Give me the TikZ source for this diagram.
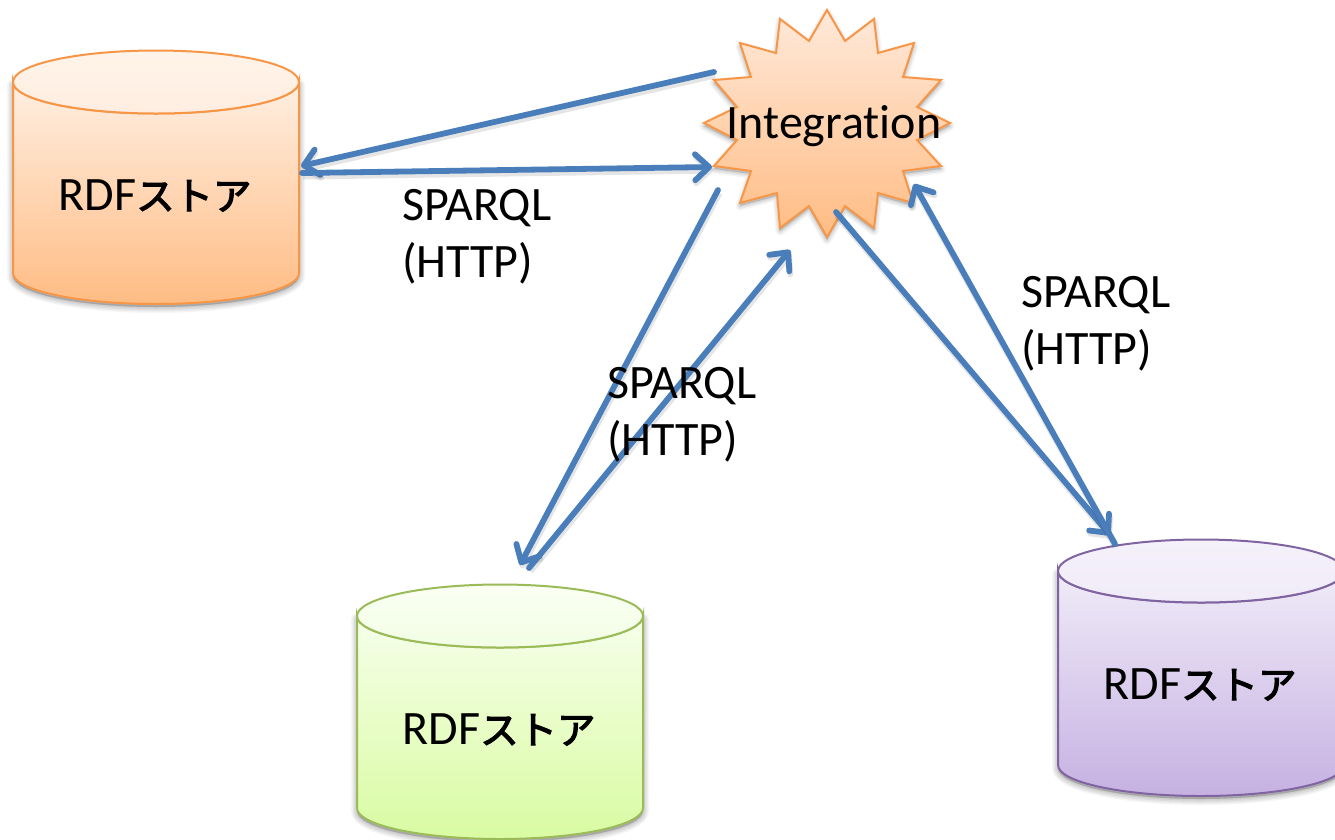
\documentclass[tikz,border=0pt]{standalone}
\usepackage{fontspec}
\setmainfont{Carlito}[Ligatures=CommonOff]
\newfontfamily\cjk{Noto Sans CJK JP}[Scale=0.8,FakeBold=3]
\usetikzlibrary{arrows.meta,calc}
\definecolor{linkblue}{HTML}{4A7EBB}
\definecolor{orangeline}{HTML}{F79646}
\definecolor{greenline}{HTML}{9BBB59}
\definecolor{purpleline}{HTML}{8064A2}
\definecolor{orangetop}{HTML}{FFEFE2}
\definecolor{orangebot}{HTML}{FFBC84}
\definecolor{orangelidtop}{HTML}{FFF4EA}
\definecolor{orangelidbot}{HTML}{FFEDE0}
\definecolor{greentop}{HTML}{F6FFEA}
\definecolor{greenbot}{HTML}{D9FBA2}
\definecolor{greenlidtop}{HTML}{FAFFF3}
\definecolor{greenlidbot}{HTML}{F2FEE4}
\definecolor{purpletop}{HTML}{F0EBF8}
\definecolor{purplebot}{HTML}{C6B1E2}
\definecolor{purplelidtop}{HTML}{F5F1FB}
\definecolor{purplelidbot}{HTML}{F0EBF8}
\definecolor{hubtop}{HTML}{FFE9DA}
\tikzset{
  every node/.style={inner sep=0pt,outer sep=0pt,text=black},
  storelabel/.style={font=\fontsize{48}{57}\selectfont,anchor=base},
  hublabel/.style={font=\fontsize{48}{57}\selectfont,anchor=base},
  linklabel/.style={font=\fontsize{48}{57}\selectfont,align=left,anchor=north west},
  link/.style={draw=linkblue,line width=5.8pt,line cap=round,
    -{Straight Barb[length=14pt,width=26pt,line width=5.8pt,round]},
    preaction={draw=black,draw opacity=.10,line width=7pt,transform canvas={shift={(1pt,-3pt)}}}},
}
% #1 left x, #2 lid centre y, #3 side bottom y, #4 colour stem
\newcommand{\storecyl}[4]{%
  \def\cylpath{(#1,#2) -- (#1,#3) arc[start angle=180,end angle=0,x radius=143,y radius=31] -- (#1+286,#2) arc[start angle=0,end angle=180,x radius=143,y radius=31.5] -- cycle}%
  \foreach \w/\o in {12/.04,9/.05,6/.05,3/.06}{%
    \fill[black,opacity=\o,draw=black,draw opacity=\o,line width=\w pt,line join=round,yshift=-3pt] \cylpath;}%
  \path[top color=#4top,bottom color=#4bot] \cylpath;
  \draw[#4line,line width=2pt] \cylpath;
  \path[top color=#4lidtop,bottom color=#4lidbot] (#1+143,#2) ellipse[x radius=143,y radius=31.5];
  \draw[#4line,line width=2pt] (#1+143,#2) ellipse[x radius=143,y radius=31.5];
}
\begin{document}
\begin{tikzpicture}[x=1pt,y=-1pt]
\clip (0,0) rectangle (1335,839);
\fill[white] (0,0) rectangle (1335,839);
% stores
\storecyl{13}{82}{273}{orange}
\storecyl{357}{616}{808}{green}
\storecyl{1058}{571}{765}{purple}
\node[storelabel] (storeA) at (155,210) {RDF{\cjk ストア}};
\node[storelabel] (storeB) at (499,744) {RDF{\cjk ストア}};
\node[storelabel] (storeC) at (1200,699) {RDF{\cjk ストア}};
% hub
\def\hubpath{(827,10) -- (845,41) -- (874,19) -- (878,53) -- (914,43) -- (903,77) -- (941,80) -- (917,107) -- (950,123) -- (917,140) -- (941,166) -- (903,171) -- (913,203) -- (878,193) -- (874,228) -- (845,206) -- (827,237) -- (809,206) -- (780,228) -- (777,193) -- (740,203) -- (751,171) -- (714,166) -- (737,140) -- (704,123) -- (737,107) -- (714,80) -- (751,77) -- (740,43) -- (776,53) -- (780,19) -- (809,41) -- cycle}
\foreach \w/\o in {9/.04,6/.05,3/.06}{%
  \fill[black,opacity=\o,draw=black,draw opacity=\o,line width=\w pt,line join=round,yshift=-3pt] \hubpath;}
\path[top color=hubtop,bottom color=orangebot] \hubpath;
\draw[orangeline,line width=2pt,line join=miter] \hubpath;
\node[hublabel] (hub) at (834,138) {Integration};
% connector ends
\coordinate (hubA) at (714,72);
\coordinate (hubAin) at (712,167);
\coordinate (hubB) at (718,190);
\coordinate (hubBin) at (790,250);
\coordinate (hubC) at (836,212);
\coordinate (hubCin) at (914,184);
\coordinate (storeAin) at (301,166);
\coordinate (storeAout) at (302,173);
\coordinate (storeBin) at (520,565);
\coordinate (storeBout) at (529,568);
\coordinate (storeCin) at (1110,535);
\coordinate (storeCout) at (1115,544);
% connectors
\draw[link] (hubA) -- (storeAin);
\draw[link] (storeAout) -- (hubAin);
\draw[link] (hubB) -- (storeBin);
\draw[link] (storeBout) -- (hubBin);
\draw[link] (hubC) -- (storeCin);
\draw[link] (storeCout) -- (hubCin);
% labels
\node[linklabel] (labelA) at (402,189) {SPARQL\\(HTTP)};
\node[linklabel] (labelB) at (607,367) {SPARQL\\(HTTP)};
\node[linklabel] (labelC) at (1021,276) {SPARQL\\(HTTP)};
\end{tikzpicture}
\end{document}
